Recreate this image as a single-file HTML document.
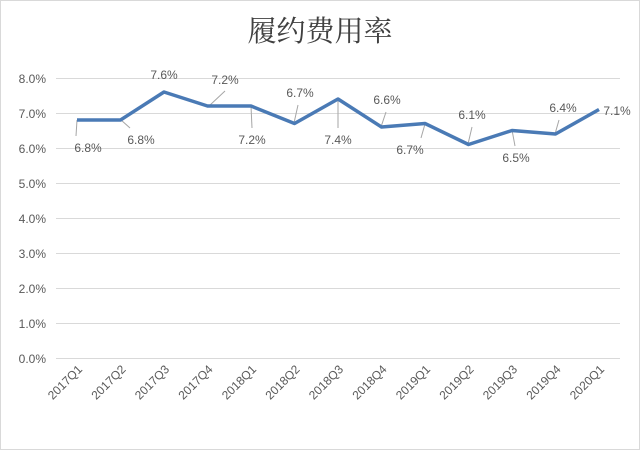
<!DOCTYPE html>
<html><head><meta charset="utf-8"><style>
html,body{margin:0;padding:0;background:#fff}
svg{display:block}
text{font-family:"Liberation Sans","Noto Sans CJK SC",sans-serif;fill:#595959;font-size:12px}
</style></head><body>
<svg width="640" height="450" viewBox="0 0 640 450">
<rect x="0.5" y="0.5" width="639" height="449" fill="#fff" stroke="#d9d9d9"/>
<text x="320" y="41" text-anchor="middle" style="font-size:29px;fill:#404040;font-family:'Noto Serif CJK SC','Noto Sans CJK SC',serif">履约费用率</text>
<g stroke="#d9d9d9" stroke-width="1">
<line x1="56" x2="620" y1="78.5" y2="78.5"/><line x1="56" x2="620" y1="113.5" y2="113.5"/>
<line x1="56" x2="620" y1="148.5" y2="148.5"/><line x1="56" x2="620" y1="183.5" y2="183.5"/>
<line x1="56" x2="620" y1="218.5" y2="218.5"/><line x1="56" x2="620" y1="253.5" y2="253.5"/>
<line x1="56" x2="620" y1="288.5" y2="288.5"/><line x1="56" x2="620" y1="323.5" y2="323.5"/>
<line x1="56" x2="620" y1="358.5" y2="358.5"/>
</g>
<g text-anchor="end">
<text x="46" y="83">8.0%</text><text x="46" y="118">7.0%</text><text x="46" y="153">6.0%</text>
<text x="46" y="188">5.0%</text><text x="46" y="223">4.0%</text><text x="46" y="258">3.0%</text>
<text x="46" y="293">2.0%</text><text x="46" y="328">1.0%</text><text x="46" y="363">0.0%</text>
</g>
<g text-anchor="end" style="font-size:12.5px">
<text transform="translate(83,370) rotate(-45)">2017Q1</text>
<text transform="translate(126.5,370) rotate(-45)">2017Q2</text>
<text transform="translate(170,370) rotate(-45)">2017Q3</text>
<text transform="translate(213.5,370) rotate(-45)">2017Q4</text>
<text transform="translate(257,370) rotate(-45)">2018Q1</text>
<text transform="translate(300.5,370) rotate(-45)">2018Q2</text>
<text transform="translate(344,370) rotate(-45)">2018Q3</text>
<text transform="translate(387.5,370) rotate(-45)">2018Q4</text>
<text transform="translate(431,370) rotate(-45)">2019Q1</text>
<text transform="translate(474.5,370) rotate(-45)">2019Q2</text>
<text transform="translate(518,370) rotate(-45)">2019Q3</text>
<text transform="translate(561.5,370) rotate(-45)">2019Q4</text>
<text transform="translate(605,370) rotate(-45)">2020Q1</text>
</g>
<g stroke="#a6a6a6" stroke-width="1">
<line x1="77" y1="120" x2="76" y2="136"/><line x1="121" y1="120" x2="130" y2="128"/>
<line x1="209" y1="106" x2="225" y2="91"/><line x1="251" y1="106" x2="252" y2="128"/>
<line x1="294" y1="123" x2="298" y2="105"/><line x1="338" y1="99" x2="338" y2="128"/>
<line x1="381" y1="127" x2="386" y2="112"/><line x1="425" y1="124" x2="421" y2="138"/>
<line x1="468" y1="144" x2="472" y2="127"/><line x1="512" y1="130" x2="515" y2="146"/>
<line x1="555" y1="134" x2="559" y2="120"/>
</g>
<polyline fill="none" stroke="#4a7ab5" stroke-width="3.5" stroke-linejoin="round" points="77,120 120.5,120 164,92 207.5,106 251,106 294.5,123.5 338,99 381.5,127 425,123.5 468.5,144.5 512,130.5 555.5,134 599,109.5"/>
<g text-anchor="middle">
<text x="88" y="152">6.8%</text><text x="141" y="144">6.8%</text>
<text x="164" y="79">7.6%</text><text x="225" y="84">7.2%</text>
<text x="252" y="144">7.2%</text><text x="300" y="97">6.7%</text>
<text x="338" y="144">7.4%</text><text x="387" y="104">6.6%</text>
<text x="410" y="154">6.7%</text><text x="472" y="119">6.1%</text>
<text x="516" y="162">6.5%</text><text x="563" y="112">6.4%</text>
<text x="617" y="115">7.1%</text>
</g>
</svg>
</body></html>
